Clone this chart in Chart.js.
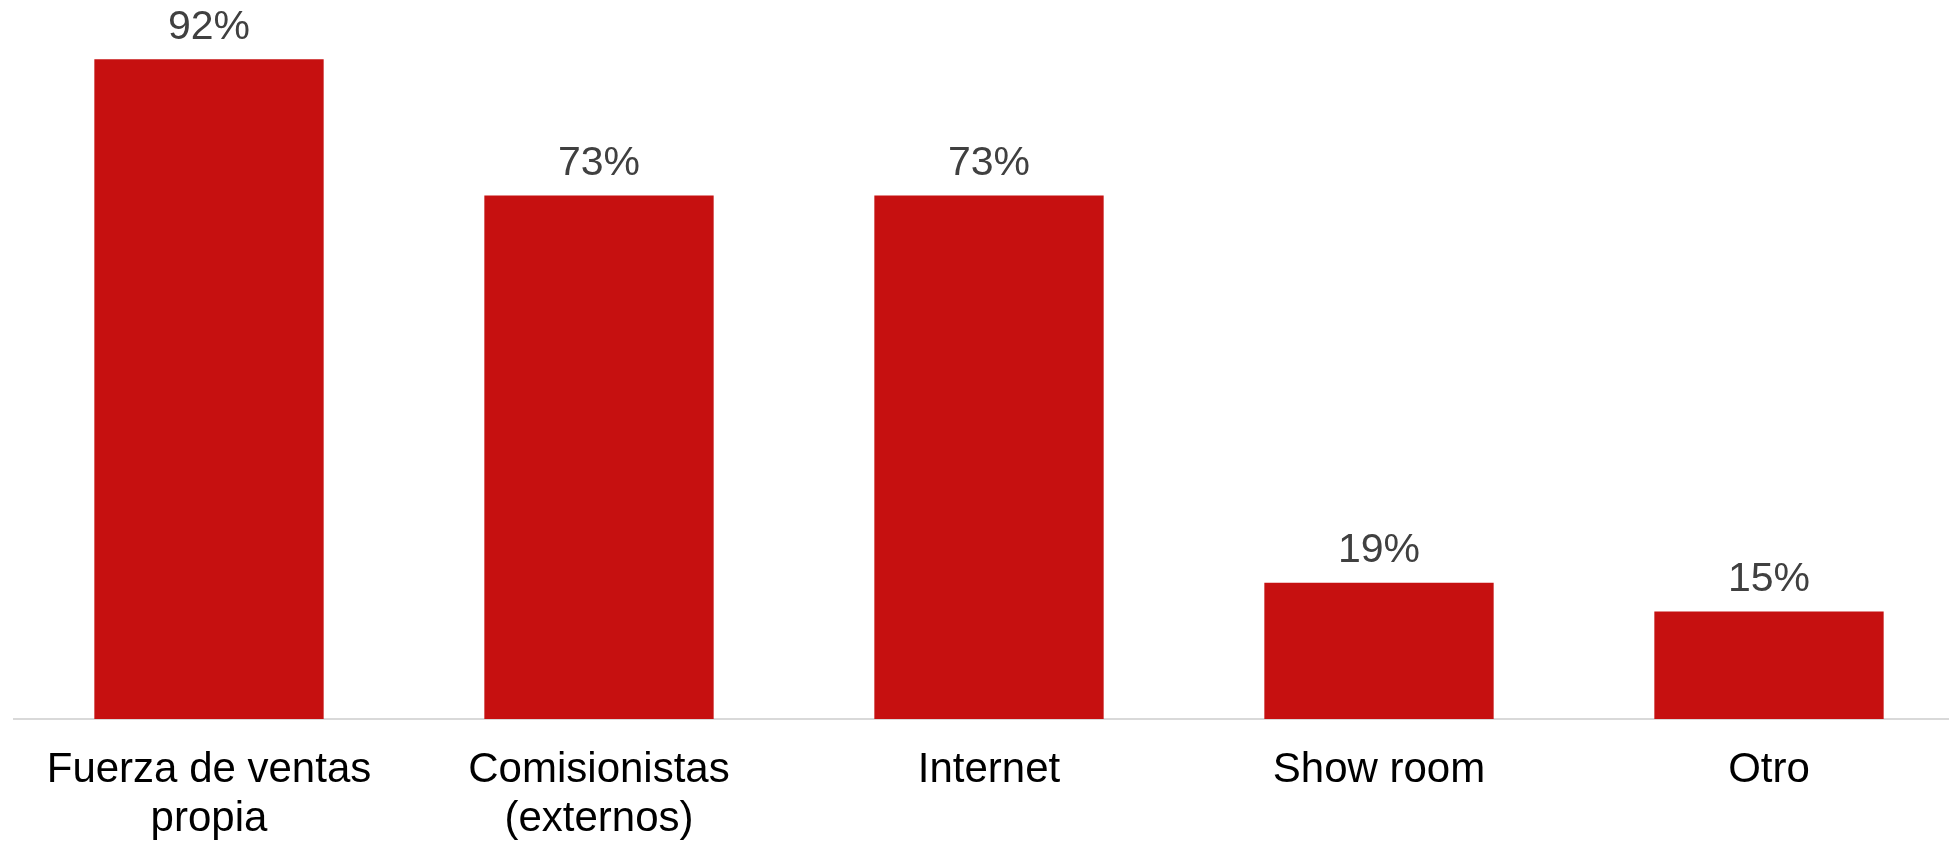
<!DOCTYPE html>
<html>
<head>
<meta charset="utf-8">
<script src="https://cdn.jsdelivr.net/npm/chart.js@4"></script>
<style>
  html, body { margin: 0; padding: 0; background: #ffffff; overflow: hidden; }
  #wrap { width: 1949px; height: 843px; overflow: hidden; }
  canvas { display: block; }
</style>
</head>
<body>
<div id="wrap"><canvas id="c" width="1964" height="843"></canvas></div>
<script>
const categories = [
  ['Fuerza de ventas', 'propia'],
  ['Comisionistas', '(externos)'],
  ['Internet'],
  ['Show room'],
  ['Otro']
];
const values = [92, 73, 73, 19, 15];
const valueLabels = ['92%', '73%', '73%', '19%', '15%'];

const barColor = '#C61010';
const FONT = '"Liberation Sans", Arial, sans-serif';

const valueLabelPlugin = {
  id: 'valueLabels',
  afterDatasetsDraw(chart) {
    const ctx = chart.ctx;
    const meta = chart.getDatasetMeta(0);
    ctx.save();
    ctx.font = '41px ' + FONT;
    ctx.fillStyle = '#404040';
    ctx.textAlign = 'center';
    ctx.textBaseline = 'alphabetic';
    meta.data.forEach((bar, i) => {
      ctx.fillText(valueLabels[i], bar.x, bar.y - 20.5);
    });
    ctx.restore();
  }
};

new Chart(document.getElementById('c'), {
  type: 'bar',
  data: {
    labels: categories,
    datasets: [{
      data: values,
      backgroundColor: barColor,
      borderWidth: 0,
      categoryPercentage: 1.0,
      barPercentage: 0.588
    }]
  },
  options: {
    responsive: false,
    animation: false,
    devicePixelRatio: 1,
    layout: { padding: { left: 14, right: 0, top: 2, bottom: 0 } },
    plugins: {
      legend: { display: false },
      tooltip: { enabled: false },
      title: { display: false }
    },
    scales: {
      x: {
        grid: { display: false, drawTicks: false },
        border: { display: true, color: '#D9D9D9', width: 2 },
        ticks: {
          color: '#000000',
          font: { family: FONT, size: 42, lineHeight: 1.15 },
          padding: 27.5,
          autoSkip: false,
          maxRotation: 0,
          minRotation: 0
        },
        afterFit(scale) { scale.height = 124; }
      },
      y: {
        display: false,
        min: 0,
        max: 100
      }
    }
  },
  plugins: [valueLabelPlugin]
});
</script>
</body>
</html>
